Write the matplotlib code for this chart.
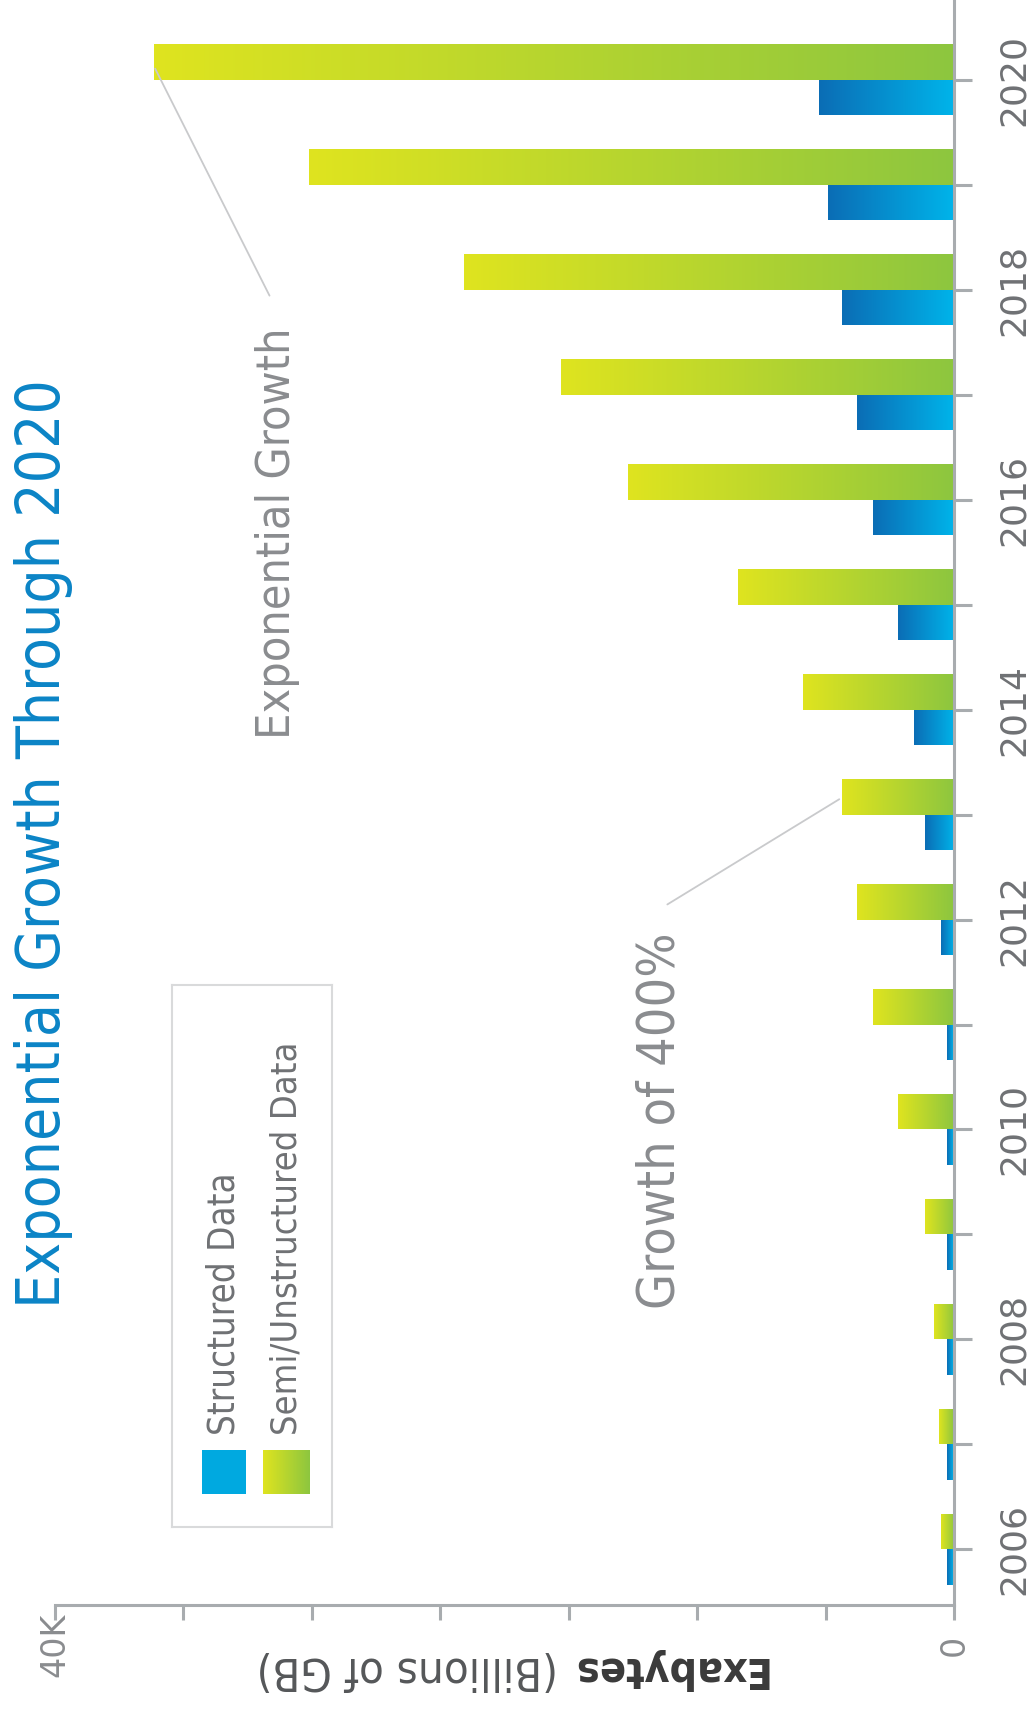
import numpy as np
import matplotlib.pyplot as plt
from matplotlib.colors import to_rgb

# data (exabytes)
years = np.arange(2006, 2021)
structured = np.array([300, 300, 300, 300, 300, 300, 600, 1300, 1800, 2500,
                       3600, 4300, 5000, 5600, 6000])
semi = np.array([600, 650, 900, 1300, 2500, 3600, 4300, 5000, 6700, 9600,
                 14500, 17500, 21800, 28700, 35600])
year_labels = [str(y) if y % 2 == 0 else '' for y in years]
value_ticks = np.linspace(0, 40000, 8)
value_labels = ['0', '', '', '', '', '', '', '40K']

# colours
semi_base, semi_tip = '#8dc63f', '#dfe41f'
str_base, str_tip = '#00b4ea', '#0b6db5'
axis_col = '#a8acaf'
grey_txt = '#8a8c8f'

# narrow look: condensed DejaVu if it is there, plain DejaVu otherwise
cond = dict(family='DejaVu Sans', fontstretch='condensed')


def grad_fill(ax, bar, c_base, c_tip):
    x0, y0 = bar.get_x(), bar.get_y()
    w, h = bar.get_width(), bar.get_height()
    c0, c1 = np.array(to_rgb(c_base)), np.array(to_rgb(c_tip))
    t = np.linspace(0, 1, 256)[None, :, None]
    img = c0 + (c1 - c0) * t
    im = ax.imshow(img, extent=(x0, x0 + w, y0, y0 + h), aspect='auto',
                   origin='lower', zorder=2, interpolation='bilinear')
    im.set_clip_path(bar)


fig = plt.figure(figsize=(10.3, 17.17), dpi=100)
ax = fig.add_axes([55 / 1030, 112 / 1717, 899 / 1030, 1605 / 1717])

bh = 0.34
bars_semi = ax.barh(years + bh / 2, semi, height=bh, color='none', linewidth=0)
bars_str = ax.barh(years - bh / 2, structured, height=bh, color='none', linewidth=0)
for b in bars_semi:
    grad_fill(ax, b, semi_base, semi_tip)
for b in bars_str:
    grad_fill(ax, b, str_base, str_tip)

ax.set_xlim(40000, 0)
ax.set_ylim(2005.47, 2020.76)

for s in ['top', 'left']:
    ax.spines[s].set_visible(False)
for s in ['right', 'bottom']:
    ax.spines[s].set_color(axis_col)
    ax.spines[s].set_linewidth(2.2)

ax.set_yticks(years, year_labels)
ax.yaxis.tick_right()
ax.tick_params(axis='y', length=13, width=2.2, color=axis_col, pad=18,
               labelsize=26, labelcolor='#6f7174')
for lab in ax.get_yticklabels():
    lab.set_rotation(90)
    lab.set_va('center')

ax.set_xticks(value_ticks, value_labels)
ax.tick_params(axis='x', length=11, width=2.2, color=axis_col, pad=18,
               labelsize=24, labelcolor=grey_txt)
for lab in ax.get_xticklabels():
    lab.set_rotation(90)
    lab.set_va('center')

fitted = []  # (text, wanted length in px along the reading direction)

# annotations
ax.annotate('', xy=(semi[-1], years[-1] + 0.13), xytext=(30400, 2017.92),
            arrowprops=dict(arrowstyle='-', color='#c9cacc', lw=1.3))
t1 = ax.text(30100, 2013.72, 'Exponential Growth', rotation=90, ha='center',
             va='bottom', fontsize=40, color=grey_txt, **cond)
fitted.append((t1, 411))
ax.annotate('', xy=(semi[7], years[7] + 0.16), xytext=(12860, 2012.13),
            arrowprops=dict(arrowstyle='-', color='#c9cacc', lw=1.3))
t2 = ax.text(13080, 2008.29, 'Growth of 400%', rotation=90, ha='center',
             va='bottom', fontsize=40, color=grey_txt, **cond)
fitted.append((t2, 375))

# title
tt = fig.text(44 / 1030, 1 - 1308 / 1717, 'Exponential Growth Through 2020',
              rotation=90, ha='center', va='bottom', fontsize=52,
              color='#0b84c6', **cond)
fitted.append((tt, 930))

# value axis label (upside down)
e1 = fig.text(569 / 1030, 1 - 1669 / 1717, 'Exabytes', rotation=180, ha='left',
              va='center', fontsize=34, fontweight='bold', color='#3a3a3a', **cond)
e2 = fig.text(558 / 1030, 1 - 1669 / 1717, '(Billions of GB)', rotation=180,
              ha='right', va='center', fontsize=34, color='#555759', **cond)
fitted.append((e1, 197))
fitted.append((e2, 301))

# legend box
lg = fig.add_axes([172 / 1030, 1 - 1527 / 1717, 160 / 1030, 542 / 1717])
lg.set_xticks([])
lg.set_yticks([])
for s in lg.spines.values():
    s.set_color('#d9dadb')
    s.set_linewidth(1.5)
sw = np.array(to_rgb('#00a9e0'))[None, None, :] * np.ones((1, 2, 3))
lg.imshow(sw, extent=(0.19, 0.46, 0.061, 0.142), aspect='auto')
t = np.linspace(0, 1, 128)[None, :, None]
c0, c1 = np.array(to_rgb(semi_tip)), np.array(to_rgb(semi_base))
lg.imshow(c0 + (c1 - c0) * t, extent=(0.57, 0.86, 0.061, 0.142), aspect='auto')
lg.set_xlim(0, 1)
lg.set_ylim(0, 1)
l1 = lg.text(0.325, 0.17, 'Structured Data', rotation=90, ha='center',
             va='bottom', fontsize=33, color='#6f7174', **cond)
l2 = lg.text(0.715, 0.17, 'Semi/Unstructured Data', rotation=90, ha='center',
             va='bottom', fontsize=33, color='#6f7174', **cond)
fitted.append((l1, 263))
fitted.append((l2, 394))

# scale the narrow-font texts so their lengths match the reference
fig.canvas.draw()
r = fig.canvas.get_renderer()
for txt, want in fitted:
    bb = txt.get_window_extent(r)
    length = bb.height if txt.get_rotation() in (90, 270) else bb.width
    txt.set_fontsize(txt.get_fontsize() * want / length)

fig.savefig('out.png', dpi=100)
